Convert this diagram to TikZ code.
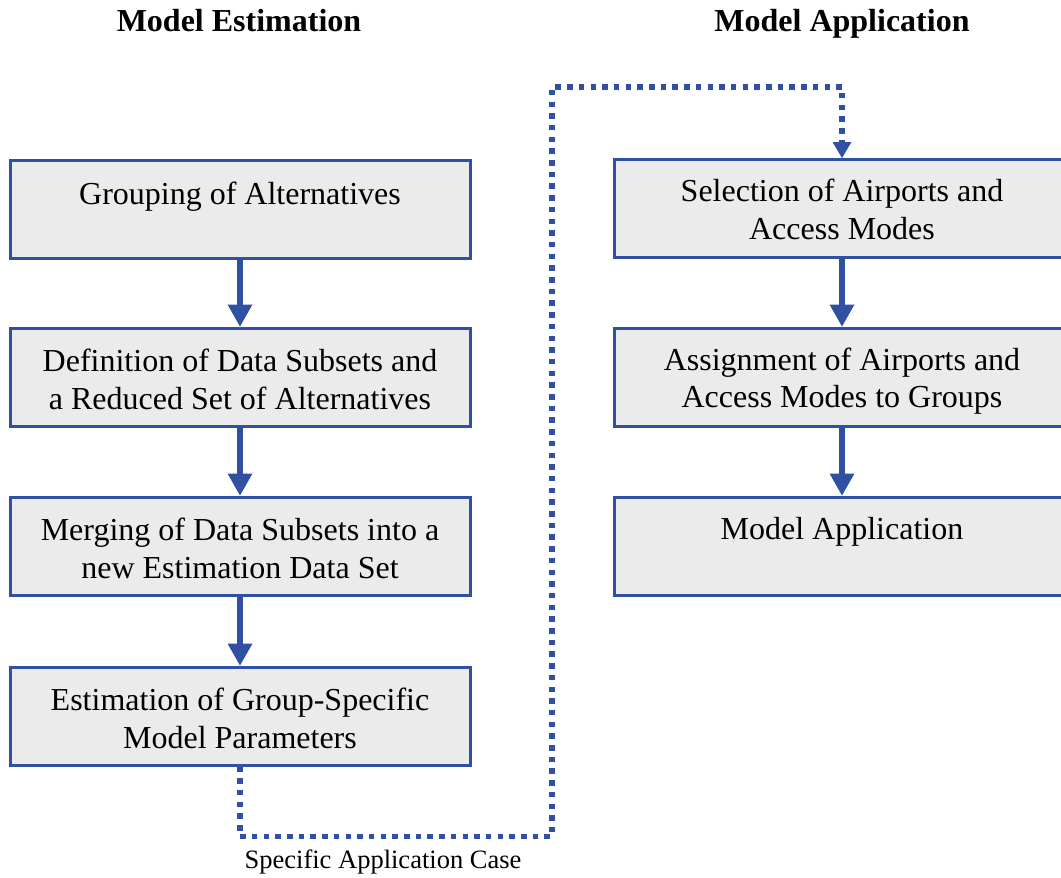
\documentclass[tikz,border=0pt]{standalone}
\usepackage{fontspec}
\setmainfont{Liberation Serif}
\usetikzlibrary{arrows.meta,calc}
\definecolor{bblue}{RGB}{47,80,163}
\definecolor{bgray}{RGB}{235,235,235}
\tikzset{
  box/.style={draw=bblue,fill=bgray,line width=3pt,minimum height=98pt,inner sep=0pt},
  lbox/.style={box,minimum width=460pt},
  rbox/.style={box,minimum width=456pt},
  txt/.style={anchor=north,inner sep=0pt,align=center,font=\fontsize{32}{37.5}\selectfont},
  ttl/.style={anchor=base,inner sep=0pt,font=\fontsize{32}{37}\selectfont\bfseries},
  flow/.style={draw=bblue,line width=6.5pt,-{Triangle[width=25pt,length=22pt,line width=0pt]}},
  dotflow/.style={draw=bblue,line width=5.5pt,dash pattern=on 5.5pt off 6.2pt,-{Triangle[width=19pt,length=16pt,line width=0pt]}},
}
\begin{document}
\begin{tikzpicture}[x=1pt,y=-1pt]
\useasboundingbox (0,0) rectangle (1061,878);
\clip (0,0) rectangle (1061,878);
% titles
\node[ttl] (t1) at (239,31) {Model Estimation};
\node[ttl] (t2) at (842,31) {Model Application};
% left boxes
\node[lbox] (b1) at (240,209) {};
\node[lbox] (b2) at (240,377) {};
\node[lbox] (b3) at (240,546) {};
\node[lbox] (b4) at (240,716) {};
\node[txt] (x1) at ($(b1.north)+(0,20)$) {\strut Grouping of Alternatives};
\node[txt] (x2) at ($(b2.north)+(0,19)$) {\strut Definition of Data Subsets and\\a Reduced Set of Alternatives};
\node[txt] (x3) at ($(b3.north)+(0,19)$) {\strut Merging of Data Subsets into a\\new Estimation Data Set};
\node[txt] (x4) at ($(b4.north)+(0,19)$) {\strut Estimation of Group-Specific\\Model Parameters};
% right boxes
\node[rbox] (r1) at (842,208.5) {};
\node[rbox] (r2) at (842,377) {};
\node[rbox] (r3) at (842,546) {};
\node[txt] (y1) at ($(r1.north)+(0,17.5)$) {\strut Selection of Airports and\\Access Modes};
\node[txt] (y2) at ($(r2.north)+(0,17.5)$) {\strut Assignment of Airports and\\Access Modes to Groups};
\node[txt] (y3) at ($(r3.north)+(0,17.5)$) {\strut Model Application};
% solid arrows
\draw[flow] (b1.south) -- (b2.north);
\draw[flow] (b2.south) -- (b3.north);
\draw[flow] (b3.south) -- (b4.north);
\draw[flow] (r1.south) -- (r2.north);
\draw[flow] (r2.south) -- (r3.north);
% dotted connector
\coordinate (c1) at (552,87);
\draw[dotflow] (b4.south) -- ++(0,70) -| (c1) -| (r1.north);
\node[anchor=base,inner sep=0pt,font=\fontsize{26.5}{30}\selectfont] (lab) at (383,868) {Specific Application Case};
\end{tikzpicture}
\end{document}
